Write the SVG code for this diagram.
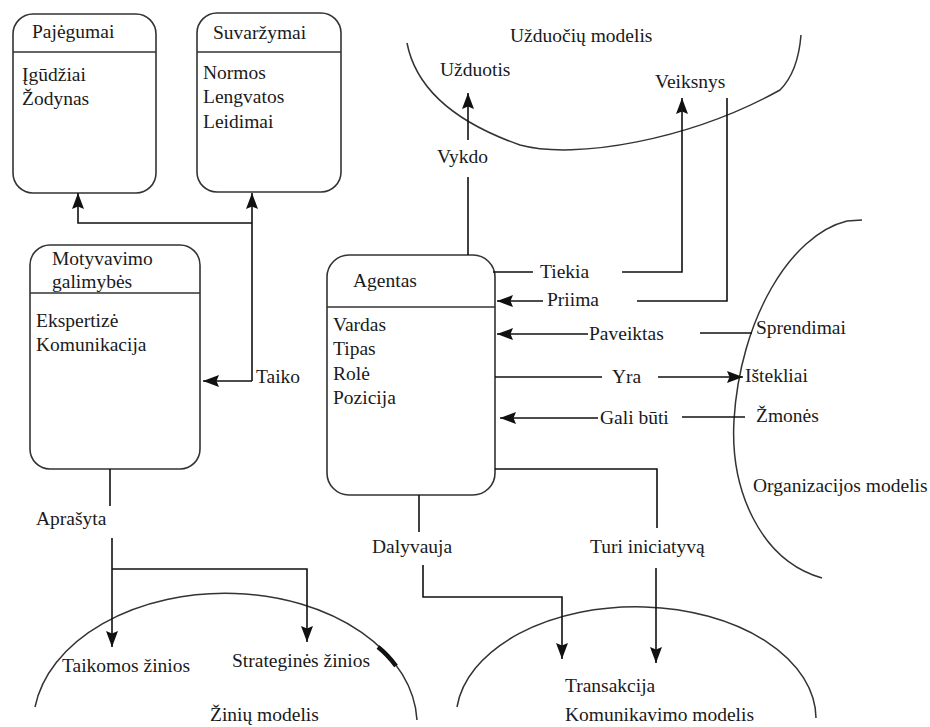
<svg xmlns="http://www.w3.org/2000/svg" width="930" height="727" viewBox="0 0 930 727">
  <style>
    text { font-family: "Liberation Serif", "DejaVu Serif", serif; font-size: 19.5px; fill: #1a1a1a; }
    .box { fill: none; stroke: #333; stroke-width: 1.6; }
    .sep { stroke: #333; stroke-width: 1.6; }
    .arc { fill: none; stroke: #333; stroke-width: 1.5; }
    .wire { fill: none; stroke: #111; stroke-width: 1.6; }
    .arrow { fill: none; stroke: #111; stroke-width: 1.6; marker-end: url(#head); }
  </style>
  <defs>
    <marker id="head" markerUnits="userSpaceOnUse" viewBox="0 0 16 12" markerWidth="16" markerHeight="12" refX="16" refY="6" orient="auto">
      <path d="M0,0 L16,6 L0,12 L2.5,6 Z" fill="#111"/>
    </marker>
  </defs>
  <rect width="930" height="727" fill="#fff"/>

  <!-- class boxes -->
  <g id="pajegumai" font-family="Liberation Serif, serif">
    <rect class="box" x="13" y="14" width="143" height="179" rx="20"/>
    <line class="sep" x1="13" y1="52" x2="156" y2="52"/>
    <text x="32" y="38">Pajėgumai</text>
    <text x="22" y="81">Įgūdžiai</text>
    <text x="22" y="105">Žodynas</text>
  </g>

  <g id="suvarzymai">
    <rect class="box" x="197" y="13" width="144" height="179" rx="20"/>
    <line class="sep" x1="197" y1="52" x2="341" y2="52"/>
    <text x="213" y="39">Suvaržymai</text>
    <text x="203" y="79">Normos</text>
    <text x="203" y="103">Lengvatos</text>
    <text x="203" y="128">Leidimai</text>
  </g>

  <g id="motyvavimo">
    <rect class="box" x="30" y="245" width="170" height="224" rx="20"/>
    <line class="sep" x1="30" y1="293" x2="200" y2="293"/>
    <text x="52" y="265">Motyvavimo</text>
    <text x="52" y="288">galimybės</text>
    <text x="36" y="327">Ekspertizė</text>
    <text x="36" y="351">Komunikacija</text>
  </g>

  <g id="agentas">
    <rect class="box" x="327" y="255" width="168" height="240" rx="22"/>
    <line class="sep" x1="327" y1="307" x2="495" y2="307"/>
    <text x="353" y="287">Agentas</text>
    <text x="333" y="331">Vardas</text>
    <text x="333" y="355">Tipas</text>
    <text x="333" y="380">Rolė</text>
    <text x="333" y="404">Pozicija</text>
  </g>

  <!-- model boundaries -->
  <g id="uzduociu-modelis">
    <path class="arc" d="M407,43 Q420,110 520,145 C575,160 690,140 780,90 Q798,72 801,35"/>
    <text x="510" y="42">Užduočių modelis</text>
    <text x="440" y="76">Užduotis</text>
    <text x="655" y="88">Veiksnys</text>
  </g>

  <g id="organizacijos-modelis">
    <path class="arc" d="M862,220 L847,221 C790,235 740,320 734,420 C730,490 760,560 822,578"/>
    <text x="756" y="334">Sprendimai</text>
    <text x="745" y="382">Ištekliai</text>
    <text x="756" y="422">Žmonės</text>
    <text x="753" y="492">Organizacijos modelis</text>
  </g>

  <g id="ziniu-modelis">
    <path class="arc" d="M35,707 A192,132 0 0 1 417,720"/>
    <path fill="none" stroke="#111" stroke-width="4.5" d="M378,647 Q388,655 396,666"/>
    <text x="62" y="672">Taikomos žinios</text>
    <text x="232" y="667">Strateginės žinios</text>
    <text x="210" y="721">Žinių modelis</text>
  </g>

  <g id="komunikavimo-modelis">
    <path class="arc" d="M457,707 A180,112 0 0 1 816,718"/>
    <text x="565" y="692">Transakcija</text>
    <text x="565" y="721">Komunikavimo modelis</text>
  </g>

  <!-- connectors and their labels -->
  <g id="connectors">
    <!-- Taiko -->
    <path class="arrow" d="M252,381 L252,193"/>
    <path class="arrow" d="M252,223 L78,223 L78,193"/>
    <path class="arrow" d="M252,381 L203,381"/>
    <text x="256" y="383">Taiko</text>

    <!-- Aprašyta -->
    <path class="wire" d="M110,469 L110,506"/>
    <text x="36" y="525">Aprašyta</text>
    <path class="arrow" d="M112,538 L112,647"/>
    <path class="arrow" d="M112,569 L307,569 L307,642"/>

    <!-- Vykdo -->
    <path class="wire" d="M468,255 L468,177"/>
    <text x="437" y="163">Vykdo</text>
    <path class="arrow" d="M468,140 L468,93"/>

    <!-- Tiekia -->
    <path class="wire" d="M493,272 L533,272"/>
    <text x="540" y="278">Tiekia</text>
    <path class="arrow" d="M622,272 L682,272 L682,98"/>

    <!-- Priima -->
    <path class="wire" d="M727,98 L727,301 L637,301"/>
    <text x="547" y="306">Priima</text>
    <path class="arrow" d="M543,301 L497,301"/>

    <!-- Paveiktas -->
    <path class="wire" d="M752,333 L700,333"/>
    <text x="589" y="340">Paveiktas</text>
    <path class="arrow" d="M588,334 L497,334"/>

    <!-- Yra -->
    <path class="wire" d="M495,377 L602,377"/>
    <text x="612" y="383">Yra</text>
    <path class="arrow" d="M658,377 L743,377"/>

    <!-- Gali būti -->
    <path class="wire" d="M745,417 L682,417"/>
    <text x="600" y="424">Gali būti</text>
    <path class="arrow" d="M598,418 L500,418"/>

    <!-- Dalyvauja -->
    <path class="wire" d="M419,495 L419,532"/>
    <text x="372" y="553">Dalyvauja</text>
    <path class="arrow" d="M423,565 L423,597 L562,597 L562,659"/>

    <!-- Turi iniciatyvą -->
    <path class="wire" d="M495,469 L657,469 L657,528"/>
    <text x="590" y="553">Turi iniciatyvą</text>
    <path class="arrow" d="M656,568 L656,663"/>
  </g>
</svg>
